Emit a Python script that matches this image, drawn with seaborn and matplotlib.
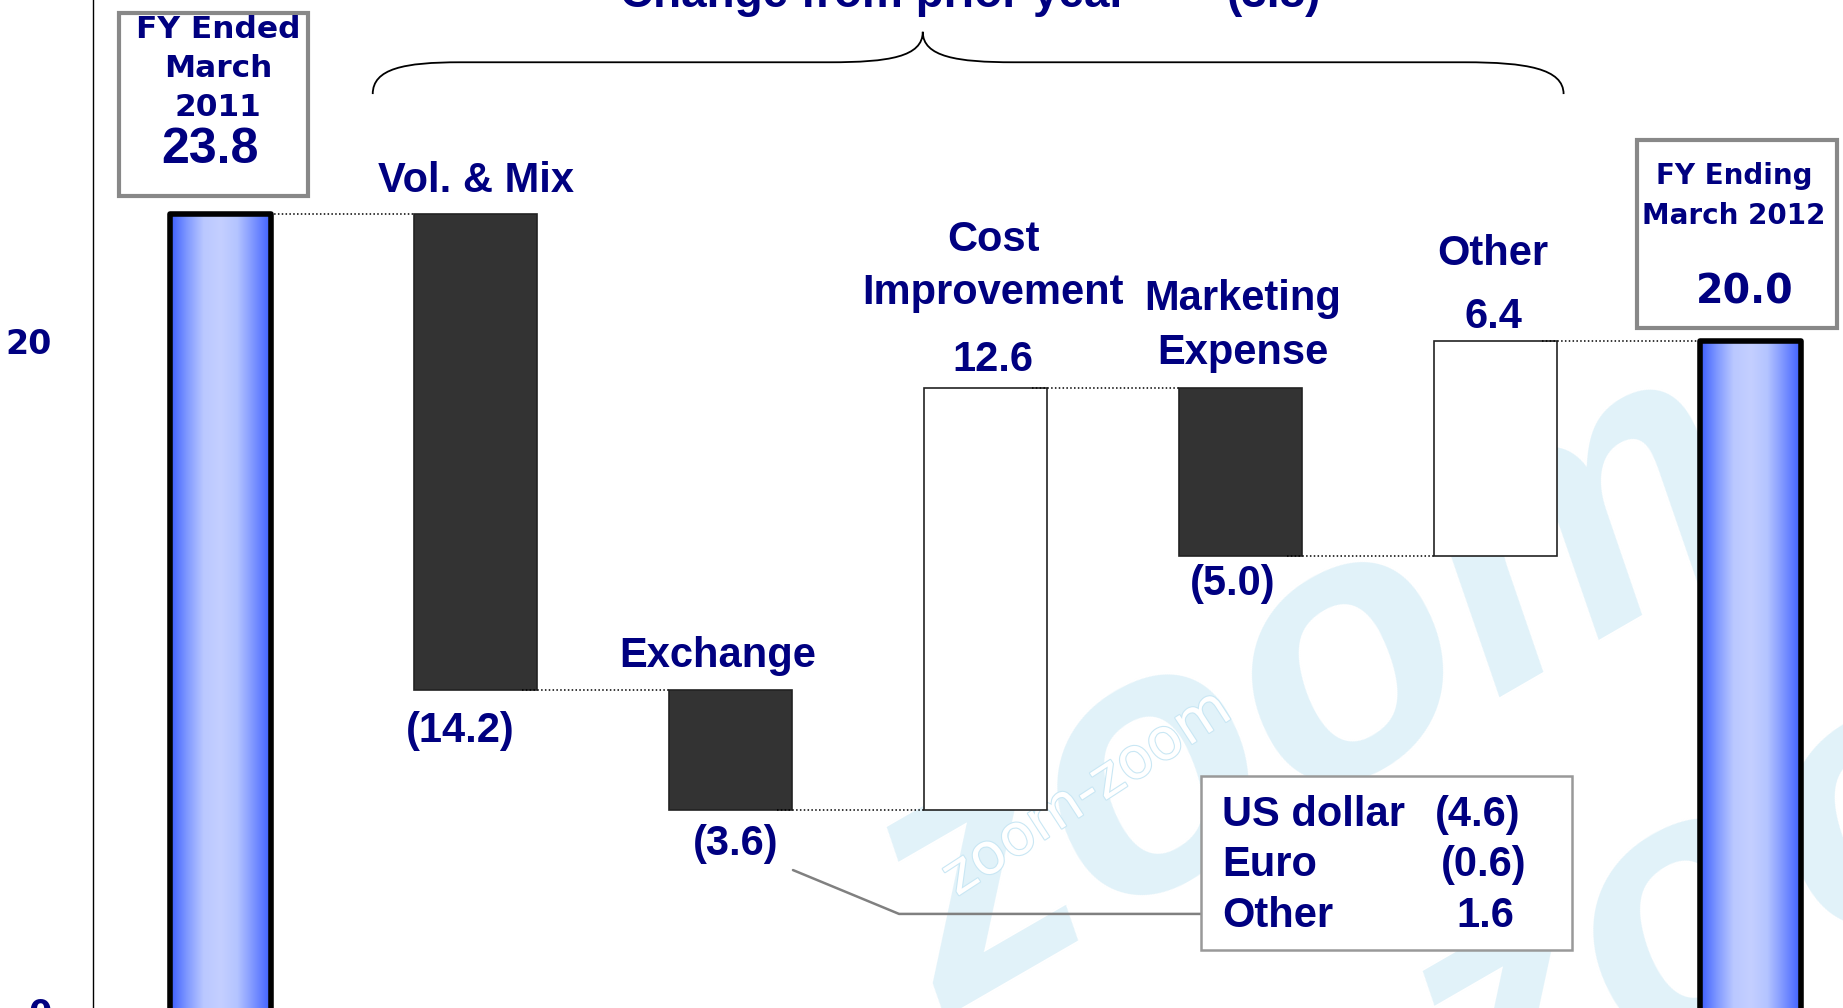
import numpy as np
import pandas as pd
import matplotlib
matplotlib.use('Agg')
import matplotlib.pyplot as plt
import seaborn as sns
from matplotlib.patches import Rectangle, PathPatch
from matplotlib.path import Path
from matplotlib.colors import LinearSegmentedColormap
import matplotlib.patheffects as pe

# data
categories = ['FY Ended March 2011', 'Vol. & Mix', 'Exchange', 'Cost Improvement',
              'Marketing Expense', 'Other', 'FY Ending March 2012']
start_value = 23.8
changes = [-14.2, -3.6, 12.6, -5.0, 6.4]
end_value = 20.0
total_change = -3.8

fx_items = ['US dollar', 'Euro', 'Other']
fx_values = [-4.6, -0.6, 1.6]

NAVY = '#000080'
ARIAL = 'Liberation Sans'
WIDE = 'DejaVu Sans'


def fmt(v):
    return f'({abs(v):.1f})' if v < 0 else f'{v:.1f}'


# waterfall table
levels = [start_value]
for c in changes:
    levels.append(levels[-1] + c)
bottoms = [0.0] + [min(levels[i], levels[i + 1]) for i in range(len(changes))] + [0.0]
heights = [start_value] + [abs(c) for c in changes] + [end_value]
df = pd.DataFrame({'category': categories, 'height': heights, 'bottom': bottoms})

sns.set_style('white')
plt.rcParams['font.family'] = [ARIAL, 'DejaVu Sans']

fig = plt.figure(figsize=(18.43, 10.08), dpi=100)
ax = fig.add_axes([93 / 1843, -3 / 1008, 1785 / 1843, 1011 / 1008])

bar_w = 0.484
total_w = 0.393
sns.barplot(data=df, x='category', y='height', order=categories, bottom=df['bottom'].values,
            width=bar_w, color='#333333', ax=ax, zorder=2)

cmap = LinearSegmentedColormap.from_list(
    'bluebar', ['#3a5cff', '#7f98ff', '#bac8ff', '#c4cfff', '#b4c4ff', '#7b93ff', '#3f60ff'])
grad = np.linspace(0, 1, 256).reshape(1, -1)

patches = list(ax.patches)
for i, p in enumerate(patches):
    if i in (0, len(patches) - 1):
        cx = p.get_x() + p.get_width() / 2
        p.set_x(cx - total_w / 2)
        p.set_width(total_w)
        p.set_facecolor('none')
        p.set_edgecolor('black')
        p.set_linewidth(4)
        p.set_joinstyle('round')
        p.set_zorder(4)
        im = ax.imshow(grad, cmap=cmap, aspect='auto', zorder=3,
                       extent=[cx - total_w / 2, cx + total_w / 2, p.get_y(), p.get_y() + p.get_height()])
        im.set_clip_path(p)
    else:
        up = changes[i - 1] > 0
        p.set_facecolor('white' if up else '#333333')
        p.set_edgecolor('#222222')
        p.set_linewidth(1.2)

# dotted connectors between bars
widths = [p.get_width() for p in patches]
for i in range(len(categories) - 1):
    lvl = levels[i] if i < len(levels) else end_value
    ax.plot([i + widths[i] / 2 - 0.06, i + 1 - widths[i + 1] / 2], [lvl, lvl],
            color='black', lw=1.1, ls=(0, (1, 1.5)), zorder=5)

# category and value labels
lab_kw = dict(color=NAVY, fontsize=30, fontweight='bold', family=ARIAL, ha='center', va='center', zorder=6)
ax.text(1.0, levels[0] + 1.0, 'Vol. & Mix', **lab_kw)
ax.text(0.94, levels[1] - 1.24, fmt(changes[0]), **lab_kw)
ax.text(1.95, levels[1] + 1.0, 'Exchange', **lab_kw)
ax.text(2.02, levels[2] - 1.0, fmt(changes[1]), **lab_kw)
ax.text(3.03, 23.03, 'Cost', **lab_kw)
ax.text(3.03, 21.45, 'Improvement', **lab_kw)
ax.text(3.03, levels[3] + 0.84, fmt(changes[2]), **lab_kw)
ax.text(4.01, 21.27, 'Marketing', **lab_kw)
ax.text(4.01, 19.65, 'Expense', **lab_kw)
ax.text(3.97, levels[4] - 0.85, fmt(changes[3]), **lab_kw)
ax.text(4.99, 22.6, 'Other', **lab_kw)
ax.text(4.99, levels[5] + 0.73, fmt(changes[4]), **lab_kw)

# header and brace
ax.text(2.56, 30.0, 'Change from prior year', color=NAVY, fontsize=33, fontweight='bold',
        family=ARIAL, ha='center', va='baseline', clip_on=False)
ax.text(4.13, 30.0, fmt(total_change), color=NAVY, fontsize=33, fontweight='bold',
        family=ARIAL, ha='center', va='baseline', clip_on=False)
ax.text(5.54, 30.55, '(', color=NAVY, fontsize=33, fontweight='bold',
        family=ARIAL, ha='center', va='baseline', clip_on=False)

yb, yf, yt = 27.39, 28.34, 29.25
xl, xm, xr = 0.597, 2.754, 5.267
verts = [(xl, yb), (xl, 28.15), (0.72, yf), (0.94, yf), (2.39, yf),
         (2.62, yf), (xm, 28.5), (xm, yt), (xm, 28.5), (2.89, yf), (3.11, yf),
         (4.88, yf), (5.12, yf), (xr, 28.15), (xr, yb)]
codes = [Path.MOVETO, Path.CURVE4, Path.CURVE4, Path.CURVE4, Path.LINETO,
         Path.CURVE4, Path.CURVE4, Path.CURVE4, Path.CURVE4, Path.CURVE4, Path.CURVE4,
         Path.LINETO, Path.CURVE4, Path.CURVE4, Path.CURVE4]
ax.add_patch(PathPatch(Path(verts, codes), facecolor='none', edgecolor='black', lw=1.3, zorder=5))

# start / end boxes
ax.add_patch(Rectangle((-0.398, 24.34), 0.741, 5.47, facecolor='white', edgecolor='#888888',
                       lw=3, zorder=5))
box_kw = dict(color=NAVY, fontweight='bold', family=WIDE, ha='center', va='center', zorder=6)
ax.text(-0.01, 29.33, 'FY Ended', fontsize=22.5, **box_kw)
ax.text(-0.01, 28.14, 'March', fontsize=22.5, **box_kw)
ax.text(-0.01, 27.0, '2011', fontsize=22.5, **box_kw)
ax.text(-0.04, 25.72, f'{start_value:.1f}', color=NAVY, fontsize=36, fontweight='bold',
        family=ARIAL, ha='center', va='center', zorder=6)

ax.add_patch(Rectangle((5.555, 20.40), 0.784, 5.62, facecolor='white', edgecolor='#888888',
                       lw=3, zorder=5, clip_on=False))
ax.text(5.935, 24.94, 'FY Ending', fontsize=20, **box_kw)
ax.text(5.935, 23.75, 'March 2012', fontsize=20, **box_kw)
ax.text(5.978, 21.45, f'{end_value:.1f}', fontsize=28.5, **box_kw)

# exchange breakdown callout
ax.plot([2.245, 2.661, 3.845], [4.21, 2.90, 2.90], color='#808080', lw=1.8, zorder=4)
ax.add_patch(Rectangle((3.845, 1.82), 1.455, 5.2, facecolor='white', edgecolor='#999999',
                       lw=1.8, zorder=5))
row_y = [5.85, 4.36, 2.84]
val_x = [4.93, 4.955, 4.96]
for name, v, yy, xx in zip(fx_items, fx_values, row_y, val_x):
    ax.text(3.927, yy, name, color=NAVY, fontsize=30, fontweight='bold', family=ARIAL,
            ha='left', va='center', zorder=6)
    ax.text(xx, yy, fmt(v), color=NAVY, fontsize=30, fontweight='bold', family=ARIAL,
            ha='center', va='center', zorder=6)

# watermark
wm = '#e1f2f9'
ax.text(2.85, -0.2, 'zoom', color=wm, fontsize=265, fontweight='bold', style='italic',
        family=ARIAL, rotation=30, rotation_mode='anchor', ha='left', va='baseline', zorder=0)
ax.text(4.95, -4.5, 'zoom', color=wm, fontsize=265, fontweight='bold', style='italic',
        family=ARIAL, rotation=30, rotation_mode='anchor', ha='left', va='baseline', zorder=0)
ax.text(3.40, 6.5, 'zoom-zoom', color='white', fontsize=41, family=WIDE, rotation=33,
        ha='center', va='center', zorder=1,
        path_effects=[pe.withStroke(linewidth=1.6, foreground='#c9e7f4')])

# axes styling
ax.set_xlim(-0.5, 6.5)
ax.set_ylim(0, 30.2)
ax.set_xlabel('')
ax.set_ylabel('')
ax.set_yticks([0, 20])
ax.set_yticklabels(['0', '20'])
ax.set_xticks(np.arange(0.5, 6.5, 1.0))
ax.set_xticklabels([])
for lab in ax.get_yticklabels():
    lab.set_fontfamily(WIDE)
    lab.set_fontweight('bold')
    lab.set_fontsize(24)
    lab.set_color(NAVY)
ax.tick_params(axis='both', direction='in', length=7, width=1, color='black')
ax.tick_params(axis='y', pad=30)
sns.despine(ax=ax, top=True, right=True)
for s in ('left', 'bottom'):
    ax.spines[s].set_color('black')
    ax.spines[s].set_linewidth(1)

fig.savefig('out.png', dpi=100)
